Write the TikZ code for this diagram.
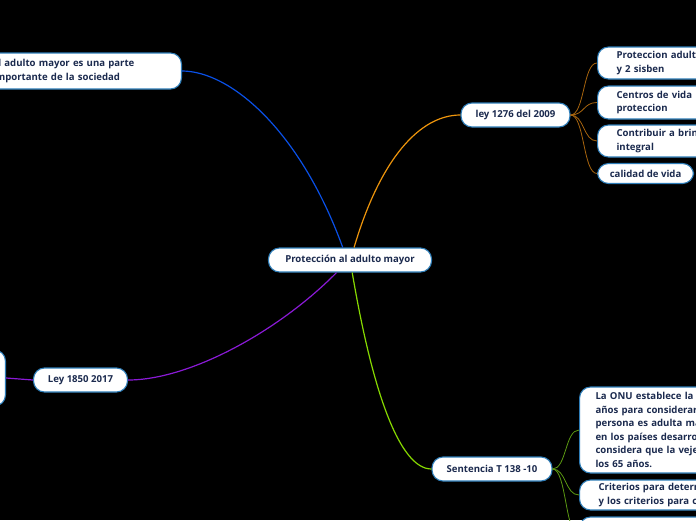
\documentclass[tikz,border=0pt]{standalone}
\usepackage{fontspec}
\setmainfont{Open Sans}
\usepackage{tikz}
\definecolor{nodeline}{HTML}{2E7DB8}
\definecolor{inktext}{HTML}{1B2A4E}
\definecolor{bluebr}{HTML}{0A50E6}
\definecolor{orangebr}{HTML}{EE950C}
\definecolor{orangesub}{HTML}{A8650E}
\definecolor{purplebr}{HTML}{8A1AD6}
\definecolor{greenbr}{HTML}{86D800}
\definecolor{greensub}{HTML}{5C9A12}

\begin{document}
\begin{tikzpicture}[x=1pt, y=-1pt,
  font=\fontsize{9.6}{13.6}\selectfont\bfseries,
  topic/.style={draw=nodeline, line width=1.1pt, fill=white, rounded corners=11pt, text=inktext, inner xsep=12pt, inner ysep=3pt, minimum height=24pt},
  leaf/.style={topic, align=left, anchor=west, text width=200pt, inner xsep=19pt},
  branch/.style={line width=1.2pt},
  twig/.style={line width=0.8pt}]
\useasboundingbox (0,0) rectangle (696,520);
\fill[black] (0,0) rectangle (696,520);
\clip (0,0) rectangle (696,520);
% main topic and branches
\node[topic, minimum width=163pt] (root) at (350,260) {Protección al adulto mayor};
\node[topic, align=left, text width=176.5pt, minimum height=36pt, anchor=east] (adult) at (182,71) {El adulto mayor es una parte\\importante de la sociedad};
\node[topic, minimum width=109pt] (ley1276) at (515.5,115) {ley 1276 del 2009};
\node[topic, minimum width=94pt] (ley1850) at (80.5,380) {Ley 1850 2017};
\node[topic, minimum width=120pt] (sent) at (492,469) {Sentencia T  138 -10};
% sub topics
\node[leaf, minimum height=32pt] (prot) at (597,63) {Proteccion adult\\y 2 sisben};
\node[leaf, minimum height=33pt] (centros) at (597,102.5) {Centros de vida\\proteccion};
\node[leaf, minimum height=32pt] (contrib) at (597,141) {Contribuir a brindar\\integral};
\node[topic, minimum height=20pt, minimum width=96pt, inner xsep=10pt, inner ysep=1pt, anchor=west] (calidad) at (597,173.5) {calidad de vida};
\node[topic, minimum width=40pt, minimum height=56pt, anchor=east] (lawsub) at (6,378) {};
\node[leaf, minimum height=86pt, inner xsep=16pt] (onu) at (579,430) {La ONU establece la\\años para considerar\\persona es adulta mayor\\en los países desarrollados\\considera que la vejez\\los 65 años.};
\node[leaf, minimum height=30pt] (crit) at (579,495) {Criterios para determinar\\y los criterios para c};
\node[leaf, minimum height=36pt] (more) at (579,535) {};
% connectors
\draw[branch, bluebr] (root.120) .. controls +(-43,-118) and +(48,0) .. (adult.east);
\draw[branch, orangebr] (root.72) .. controls +(26,-88) and +(-41,0) .. (ley1276.west);
\draw[branch, purplebr] (root.223) .. controls +(-57,58) and +(62,0) .. (ley1850.east);
\draw[branch, greenbr] (root.280) .. controls +(20,118) and +(-32,0) .. (sent.west);
\draw[branch, purplebr] (ley1850.west) -- (lawsub.east);
\foreach \n in {prot,centros,contrib,calidad}
  \draw[twig, orangesub] (ley1276.east) .. controls +(14,0) and +(-14,0) .. (\n.west);
\foreach \n in {onu,crit,more}
  \draw[twig, greensub] (sent.east) .. controls +(14,0) and +(-14,0) .. (\n.west);
\end{tikzpicture}
\end{document}
